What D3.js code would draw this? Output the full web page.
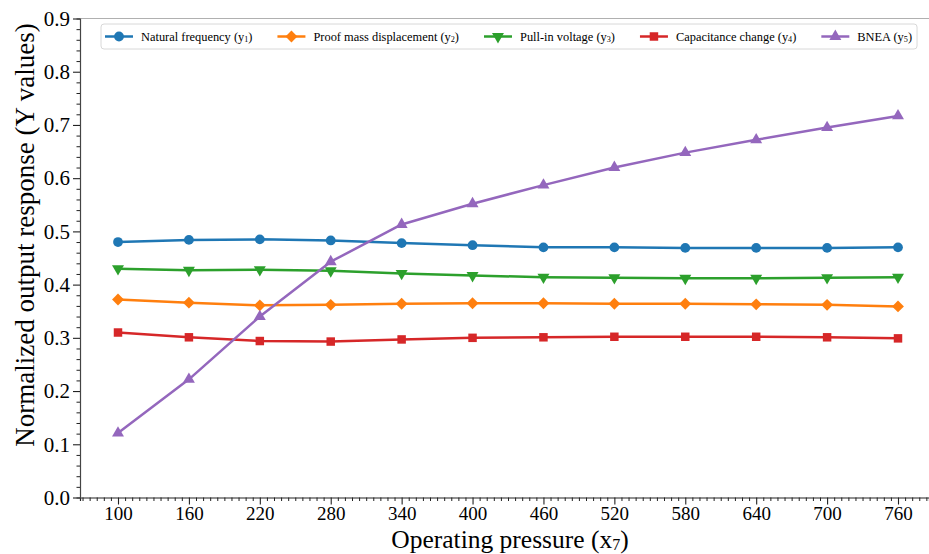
<!DOCTYPE html>
<html><head><meta charset="utf-8">
<script src="https://cdn.jsdelivr.net/npm/d3@7"></script>
<style>
body{margin:0;background:#fff}
text{font-family:"Liberation Serif","Times New Roman",serif;fill:#000}
</style>
</head><body>
<svg id="c" width="929" height="554"></svg>
<script>
const pressures = [100,160,220,280,340,400,460,520,580,640,700,760];
const naturalFrequency = [0.480,0.484,0.485,0.483,0.478,0.474,0.470,0.470,0.469,0.469,0.469,0.470];
const proofMassDisplacement = [0.372,0.366,0.361,0.362,0.364,0.365,0.365,0.364,0.364,0.363,0.362,0.359];
const pullInVoltage = [0.430,0.427,0.428,0.426,0.421,0.417,0.414,0.413,0.412,0.412,0.413,0.414];
const capacitanceChange = [0.310,0.301,0.294,0.293,0.297,0.300,0.301,0.302,0.302,0.302,0.301,0.299];
const bnea = [0.121,0.222,0.340,0.443,0.513,0.552,0.587,0.620,0.648,0.672,0.695,0.717];
const seriesLabels = ["Natural frequency (y","Proof mass displacement (y","Pull-in voltage (y","Capacitance change (y","BNEA (y"];
const seriesSubs = ["1","2","3","4","5"];
const yTickValues = [0,0.1,0.2,0.3,0.4,0.5,0.6,0.7,0.8,0.9];
const xLabel = ["Operating pressure (x","7",")"];
const yLabel = "Normalized output response (Y values)";

(function(){
const colors = ["#1f77b4","#ff7f0e","#2ca02c","#d62728","#9467bd"];
const seriesData = [naturalFrequency, proofMassDisplacement, pullInVoltage, capacitanceChange, bnea];

const svg = d3.select("#c");
const W = 929;
const pLeft = 80, pTop = 18.5, pBottom = 497.5;

const x = d3.scaleLinear().domain([100,760]).range([118,898]);
const xAx = x.copy().domain([x.invert(pLeft), x.invert(W)]).range([pLeft, W]);
const y = d3.scaleLinear().domain([0,0.9]).range([pBottom, pTop]);

svg.append("line").attr("x1",pLeft).attr("x2",W).attr("y1",pTop).attr("y2",pTop)
  .attr("stroke","#b0b0b0").attr("stroke-width",1.2);

const xMinor = d3.range(70, xAx.domain()[1], 6).filter(v => (v-100)%60 !== 0);
const yMinor = d3.range(0, 0.9001, 0.02).filter(v => Math.abs(v*10 - Math.round(v*10)) > 1e-6);

const gx = svg.append("g").attr("transform",`translate(0,${pBottom})`);
gx.call(d3.axisBottom(xAx).tickValues(xMinor).tickSize(3.5).tickFormat(""));
gx.selectAll(".tick line").attr("stroke","#222");
gx.select(".domain").attr("stroke","#222").attr("stroke-width",1.2);
const gx2 = svg.append("g").attr("transform",`translate(0,${pBottom})`);
gx2.call(d3.axisBottom(xAx).tickValues(pressures).tickSize(7).tickPadding(2).tickFormat(d3.format("d")));
gx2.selectAll("text").attr("font-size",19).style("font-family","'Liberation Serif',serif");
gx2.selectAll(".tick line").attr("stroke","#222").attr("stroke-width",1.1);
gx2.select(".domain").remove();

const gy = svg.append("g").attr("transform",`translate(${pLeft},0)`);
gy.call(d3.axisLeft(y).tickValues(yMinor).tickSize(3.5).tickFormat(""));
gy.selectAll(".tick line").attr("stroke","#222");
gy.select(".domain").attr("stroke","#444").attr("stroke-width",1.2);
const gy2 = svg.append("g").attr("transform",`translate(${pLeft},0)`);
gy2.call(d3.axisLeft(y).tickValues(yTickValues).tickSize(7).tickPadding(3).tickFormat(d3.format(".1f")));
gy2.selectAll("text").attr("font-size",21).style("font-family","'Liberation Serif',serif");
gy2.selectAll(".tick line").attr("stroke","#222").attr("stroke-width",1.1);
gy2.select(".domain").remove();

const xt = svg.append("text").attr("x",510).attr("y",548).attr("text-anchor","middle").attr("font-size",25.5);
xt.append("tspan").text(xLabel[0]);
xt.append("tspan").text(xLabel[1]).attr("font-size",16).attr("dy",2);
xt.append("tspan").text(xLabel[2]).attr("dy",-2);
svg.append("text").attr("transform",`translate(34,235) rotate(-90)`)
  .attr("text-anchor","middle").attr("font-size",27).text(yLabel);

function marker(i){
  const s = [d3.symbolCircle, d3.symbolSquare, d3.symbolTriangle, d3.symbolSquare, d3.symbolTriangle][i];
  const size = [75, 70, 62, 72, 62][i];
  const rot = [0, 45, 180, 0, 0][i];
  return {path: d3.symbol().type(s).size(size)(), rot};
}

const line = d3.line().x((d,i)=>x(pressures[i])).y(d=>y(d));
seriesData.forEach((vals,i)=>{
  svg.append("path").attr("d",line(vals)).attr("fill","none").attr("stroke",colors[i])
    .attr("stroke-width",2.5).attr("stroke-linejoin","round");
  const m = marker(i);
  svg.append("g").selectAll("path").data(vals).join("path")
    .attr("d",m.path).attr("fill",colors[i])
    .attr("transform",(d,j)=>`translate(${x(pressures[j])},${y(d)}) rotate(${m.rot})`);
});

const leg = svg.append("g");
const box = leg.append("rect").attr("y",24).attr("height",25).attr("rx",3)
  .attr("fill","#fff").attr("fill-opacity",0.85).attr("stroke","#d8d8d8").attr("stroke-width",1);
let cx = 105;
seriesLabels.forEach((lab,i)=>{
  const ly = 36.5;
  leg.append("line").attr("x1",cx).attr("x2",cx+28).attr("y1",ly).attr("y2",ly)
    .attr("stroke",colors[i]).attr("stroke-width",2.5);
  const m = marker(i);
  leg.append("path").attr("d",m.path).attr("fill",colors[i])
    .attr("transform",`translate(${cx+14},${ly}) rotate(${m.rot})`);
  const t = leg.append("text").attr("x",cx+36).attr("y",ly+4).attr("font-size",12.4);
  t.append("tspan").text(lab);
  t.append("tspan").text(seriesSubs[i]).attr("font-size",8.2).attr("dy",1.5);
  t.append("tspan").text(")").attr("dy",-1.5);
  const w = t.node().getComputedTextLength();
  cx = cx + 36 + w + 25;
});
box.attr("x",101).attr("width", cx - 25 - 101 + 5);
})();
</script>
</body></html>
